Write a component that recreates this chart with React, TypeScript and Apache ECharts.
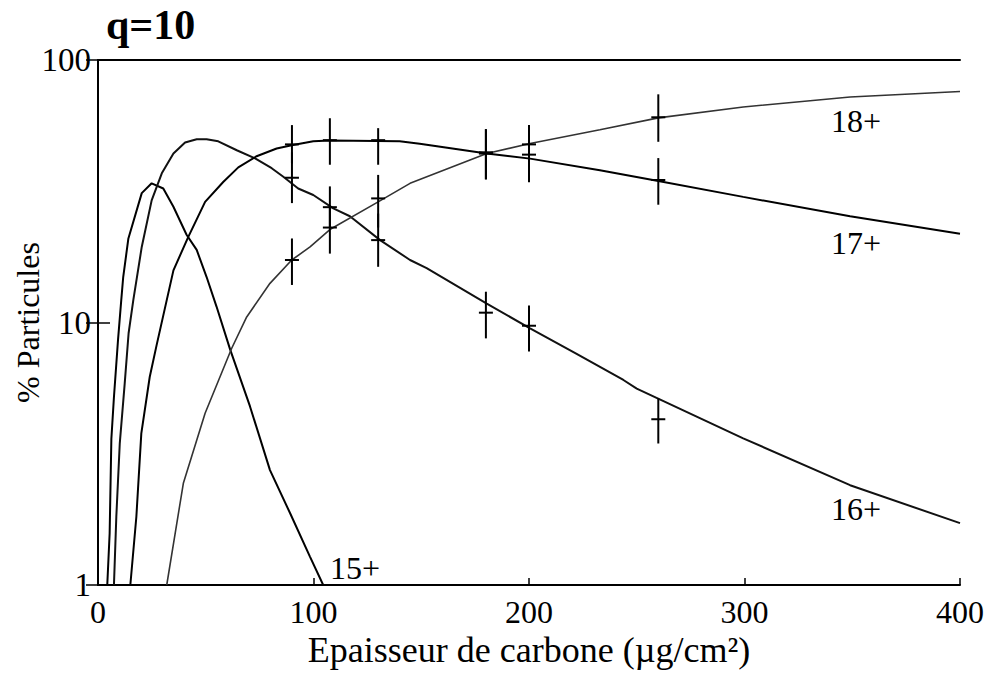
import React, { useEffect, useRef } from "react";
import * as echarts from "echarts";

const xTicks = [0, 100, 200, 300, 400];
const yTicks = [1, 10, 100];

const curve15 = [[4.3,1],[5.4,1.57],[6.2,3.6],[7.4,5.2],[9.3,8.6],[10.8,12.2],[11.7,14.9],[14.1,20.9],[20.3,31.1],[24.9,33.9],[30.3,32.4],[35,27.6],[41.1,21.6],[45.8,18.9],[50.4,14.9],[55,11.5],[61.3,7.9],[70.5,4.8],[79.8,2.74],[89.1,1.88],[98.4,1.28],[104.5,1.0]];
const curve16 = [[7.4,1],[8.5,1.82],[10.1,3.46],[12.4,5.86],[14.2,9.1],[16.4,12.2],[20.3,19.4],[24.9,29.2],[29.6,37],[35,44],[40.4,48.5],[45.8,49.9],[50.4,49.9],[55.8,49],[64.4,45.3],[72.9,42.2],[80.6,38.7],[86,35.9],[92.9,32.4],[99.9,30.6],[109.2,27.2],[116.9,25.4],[130.9,20.6],[144.8,17.3],[152.5,16.1],[180.4,11.8],[200.5,9.5],[222.1,7.6],[243.8,6.04],[250,5.6],[299.4,3.62],[349,2.4],[400,1.72]];
const curve17 = [[15,1],[17.8,1.82],[20.1,3.78],[24,6.2],[27.2,8.2],[35,15.8],[41.9,21.2],[49.7,28.8],[58.1,34.3],[65.1,39],[73.6,43],[82.9,46],[89.9,47.3],[99.9,49],[107.6,49.4],[140,49],[149.3,48],[180.4,44],[200.5,42.1],[232.9,38],[260,34.6],[299.4,30.1],[349,25.4],[400,21.8]];
const curve18 = [[31.9,1],[39.6,2.44],[49.7,4.51],[62,7.96],[69,10.5],[79.8,14.1],[89.9,17.3],[98.4,19.4],[107.6,22.6],[130,28.8],[144.8,33.9],[180.4,44],[200.5,48.1],[232.9,54.2],[260,60.2],[299.4,66.2],[349,72.3],[400,75.9]];

// [x, y, low, high]
const points16 = [[90,35.6,28.5,44.5],[107.6,27.5,23,33],[130,20.6,16.3,26],[180,10.9,8.7,13.1],[200,9.72,7.75,11.6],[260,4.28,3.46,5.14]];
const points17 = [[90,47.7,40.3,56.5],[107.6,49.5,39.9,60],[130,49.5,39.9,55],[180,44.5,35.1,54.5],[200,43.6,34.2,52],[260,34.9,28.1,42.3]];
const points18 = [[90,17.3,13.9,20.9],[107.6,23,18.3,28],[130,29.7,23,36.5],[180,44,35.1,54.5],[200,47.7,40,56.5],[260,60.5,48.8,74]];

const FONT = "Liberation Serif";

function errorSeries(data: number[][]) {
  return {
    type: "custom",
    data,
    renderItem: (params: any, api: any) => {
      const x = api.value(0);
      const c = api.coord([x, api.value(1)]);
      const lo = api.coord([x, api.value(2)]);
      const hi = api.coord([x, api.value(3)]);
      const st = { stroke: "#000", lineWidth: 2 };
      return {
        type: "group",
        children: [
          { type: "line", shape: { x1: c[0], y1: hi[1], x2: c[0], y2: lo[1] }, style: st },
          { type: "line", shape: { x1: c[0] - 7, y1: c[1], x2: c[0] + 7, y2: c[1] }, style: st },
        ],
      };
    },
    z: 5,
  };
}

function lineSeries(data: number[][], color: string, width: number) {
  return {
    type: "line",
    data,
    showSymbol: false,
    smooth: false,
    lineStyle: { color, width },
    z: 3,
  };
}

export default function App() {
  const ref = useRef<HTMLDivElement>(null);
  useEffect(() => {
    const chart = echarts.init(ref.current!, null, { renderer: "svg" });
    const axisLine = { show: true, lineStyle: { color: "#000", width: 2 } };
    const labelFont = `32px '${FONT}'`;
    chart.setOption({
      animation: false,
      backgroundColor: "#fff",
      textStyle: { fontFamily: FONT },
      title: {
        text: "q=10",
        left: 106,
        top: 2,
        padding: 0,
        textStyle: { fontFamily: FONT, fontWeight: "bold", fontSize: 42, lineHeight: 46, color: "#000" },
      },
      grid: { left: 98, right: 34, top: 60, bottom: 101, containLabel: false, outerBoundsMode: "none" },
      xAxis: [
        {
          type: "value",
          min: xTicks[0],
          max: xTicks[xTicks.length - 1],
          interval: 100,
          position: "bottom",
          axisLine,
          axisTick: { show: true, inside: true, length: 7, lineStyle: { color: "#000", width: 1.5 } },
          axisLabel: { fontFamily: FONT, fontSize: 32, color: "#000", margin: 11, lineHeight: 32 },
          splitLine: { show: false },
          name: "Epaisseur de carbone (µg/cm²)",
          nameLocation: "middle",
          nameMoveOverlap: false,
          nameGap: 47,
          nameTextStyle: { fontFamily: FONT, fontSize: 36, color: "#000" },
        },
        {
          type: "value",
          min: 0,
          max: 400,
          position: "top",
          axisLine,
          axisTick: { show: false },
          axisLabel: { show: false },
          splitLine: { show: false },
        },
      ],
      yAxis: [
        {
          type: "log",
          logBase: 10,
          min: yTicks[0],
          max: yTicks[yTicks.length - 1],
          position: "left",
          axisLine,
          axisTick: { show: true, inside: true, length: 12, lineStyle: { color: "#000", width: 1.5 } },
          axisLabel: { fontFamily: FONT, fontSize: 33, color: "#000", margin: 7 },
          splitLine: { show: false },
          minorTick: { show: false },
          name: "% Particules",
          nameLocation: "middle",
          nameRotate: 90,
          nameMoveOverlap: false,
          nameGap: 54,
          nameTextStyle: { fontFamily: FONT, fontSize: 32, color: "#000" },
        },
        {
          type: "log",
          logBase: 10,
          min: 1,
          max: 100,
          position: "right",
          axisLine,
          axisTick: { show: true, inside: true, length: 12, lineStyle: { color: "#000", width: 1.5 } },
          axisLabel: { show: false },
          splitLine: { show: false },
        },
      ],
      graphic: [
        { type: "text", left: 831, top: 105, style: { text: "18+", font: labelFont, fill: "#000" } },
        { type: "text", left: 831, top: 227, style: { text: "17+", font: labelFont, fill: "#000" } },
        { type: "text", left: 831, top: 493, style: { text: "16+", font: labelFont, fill: "#000" } },
        { type: "text", left: 330, top: 552, style: { text: "15+", font: labelFont, fill: "#000" } },
      ],
      series: [
        lineSeries(curve15, "#000", 2),
        lineSeries(curve16, "#111", 2),
        lineSeries(curve17, "#000", 2),
        lineSeries(curve18, "#333", 1.6),
        errorSeries(points16),
        errorSeries(points17),
        errorSeries(points18),
      ],
    });
    return () => chart.dispose();
  }, []);
  return <div ref={ref} style={{ position: "absolute", left: 0, top: 0, width: 994, height: 686 }} />;
}
